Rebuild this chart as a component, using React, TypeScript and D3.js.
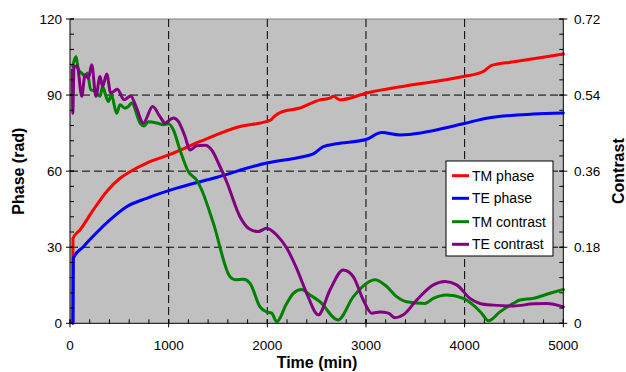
import React from "react";
import * as d3 from "d3";

const xTicks = [0, 1000, 2000, 3000, 4000, 5000];
const phaseTicks = [0, 30, 60, 90, 120];
const contrastTicks = [0, 0.18, 0.36, 0.54, 0.72];
const seriesNames = ["TM phase", "TE phase", "TM contrast", "TE contrast"];
const seriesColors = ["#ff0000", "#0000ff", "#008000", "#800080"];

const tmPhase: [number, number][] = [
  [27, 0], [30, 33.5], [101, 36.8], [236, 44.7], [372, 52], [507, 57.2], [608, 59.8],
  [777, 63.2], [1014, 66.6], [1318, 71.7], [1723, 77.6], [1993, 79.6], [2040, 80.3],
  [2060, 81.2], [2128, 83.1], [2331, 84.9], [2534, 88.1], [2635, 88.8], [2669, 89.5],
  [2737, 88.1], [3007, 90.8], [3412, 93.7], [3986, 97.3], [4189, 99.3], [4274, 101.7],
  [4500, 103.1], [5000, 106.2],
];

const tePhase: [number, number][] = [
  [31, 0], [34, 25.7], [135, 30.2], [236, 34.4], [405, 40.8], [574, 46], [777, 49.3], [1081, 53.3],
  [1453, 57.2], [1993, 63.2], [2331, 65.5], [2466, 66.8], [2567, 69.7], [2700, 70.8],
  [3007, 72.6], [3159, 75.2], [3345, 74.3], [3986, 78.7], [4223, 80.9], [4696, 82.5],
  [5000, 82.9],
];

const tmContrast: [number, number][] = [
  [27, 0.608], [61, 0.631], [85, 0.6], [119, 0.592], [152, 0.584], [176, 0.592], [210, 0.553],
  [253, 0.549], [304, 0.537], [330, 0.56], [365, 0.537], [389, 0.525], [420, 0.54],
  [473, 0.497], [507, 0.517], [557, 0.509], [591, 0.513], [625, 0.521], [710, 0.474],
  [750, 0.467], [794, 0.477], [879, 0.474], [946, 0.47], [997, 0.472], [1047, 0.458],
  [1115, 0.41], [1199, 0.359], [1284, 0.339], [1334, 0.316], [1453, 0.237], [1622, 0.11],
  [1673, 0.103], [1757, 0.104], [1824, 0.095], [1926, 0.039], [1993, 0.027], [2044, 0.024],
  [2095, 0.004], [2196, 0.047], [2264, 0.071], [2348, 0.08], [2433, 0.067], [2534, 0.051],
  [2716, 0.008], [2872, 0.063], [3007, 0.095], [3092, 0.103], [3210, 0.087], [3311, 0.063],
  [3412, 0.051], [3598, 0.047], [3683, 0.059], [3818, 0.067], [3986, 0.059], [4088, 0.043],
  [4172, 0.024], [4240, 0.006], [4358, 0.027], [4493, 0.047], [4561, 0.055], [4696, 0.059],
  [4865, 0.071], [5000, 0.08],
];

const teContrast: [number, number][] = [
  [25, 0.6], [28, 0.497], [41, 0.608], [74, 0.608], [119, 0.537], [152, 0.588], [186, 0.58],
  [220, 0.612], [263, 0.537], [304, 0.584], [331, 0.56], [372, 0.59], [413, 0.545],
  [480, 0.554], [548, 0.529], [615, 0.538], [669, 0.513], [743, 0.474], [838, 0.513],
  [912, 0.489], [963, 0.474], [1047, 0.486], [1098, 0.478], [1166, 0.442], [1216, 0.41],
  [1284, 0.42], [1368, 0.421], [1436, 0.41], [1520, 0.371], [1588, 0.335], [1723, 0.252],
  [1808, 0.225], [1909, 0.217], [1993, 0.225], [2095, 0.209], [2196, 0.178], [2297, 0.13],
  [2399, 0.071], [2517, 0.02], [2635, 0.079], [2770, 0.126], [2872, 0.11], [2973, 0.055],
  [3058, 0.024], [3142, 0.027], [3227, 0.024], [3294, 0.013], [3379, 0.02], [3514, 0.055],
  [3683, 0.091], [3801, 0.099], [3919, 0.091], [4054, 0.059], [4155, 0.047], [4290, 0.043],
  [4493, 0.041], [4696, 0.046], [4831, 0.047], [5000, 0.039],
];

const W = 626;
const H = 372;
const L = 70;
const R = 563.3;
const T = 19;
const B = 323.3;
const FONT = "Arial, 'Liberation Sans', sans-serif";

export default function App() {
  const x = d3.scaleLinear().domain([0, 5000]).range([L, R]);
  const yP = d3.scaleLinear().domain([0, 120]).range([B, T]);
  const yC = d3.scaleLinear().domain([0, 0.72]).range([B, T]);

  const lineP = d3.line<[number, number]>().x((d) => x(d[0])).y((d) => yP(d[1])).curve(d3.curveMonotoneX);
  const lineC = d3.line<[number, number]>().x((d) => x(d[0])).y((d) => yC(d[1])).curve(d3.curveMonotoneX);

  const xMinor = d3.range(0, 5001, 200);
  const pMinor = d3.range(0, 121, 6);
  const cMinor = d3.range(0, 21).map((i) => i * 0.036);

  const paths = [lineP(tmPhase), lineP(tePhase), lineC(tmContrast), lineC(teContrast)];

  const legX = 446, legY = 161, legW = 107, legH = 95;
  const rowY = [175.7, 198.3, 221.7, 244.3];

  return (
    <div style={{ position: "fixed", left: 0, top: 0 }}>
      <svg width={W} height={H} style={{ display: "block", background: "#fff" }} fontFamily={FONT}>
        <rect x={L} y={T} width={R - L} height={B - T} fill="#c0c0c0" />
        <line x1={L} x2={R} y1={T} y2={T} stroke="#808080" strokeWidth={1} />
        {xTicks.slice(1, -1).map((t) => (
          <line key={"gx" + t} x1={x(t)} x2={x(t)} y1={T} y2={B} stroke="#000" strokeWidth={1} strokeDasharray="8,4" />
        ))}
        {phaseTicks.slice(1, -1).map((t) => (
          <line key={"gy" + t} x1={L} x2={R} y1={yP(t)} y2={yP(t)} stroke="#000" strokeWidth={1} strokeDasharray="8,4" />
        ))}
        {paths.map((p, i) => (
          <path key={"s" + i} d={p || ""} fill="none" stroke={seriesColors[i]} strokeWidth={3} strokeLinejoin="round" strokeLinecap="round" />
        ))}
        <line x1={L} x2={L} y1={T} y2={B} stroke="#000" />
        <line x1={R} x2={R} y1={T} y2={B} stroke="#000" />
        <line x1={L} x2={R} y1={B} y2={B} stroke="#000" />
        {xMinor.map((t) => (
          <line key={"xm" + t} x1={x(t)} x2={x(t)} y1={B - 4} y2={B} stroke="#000" />
        ))}
        {xTicks.map((t) => (
          <g key={"xt" + t}>
            <line x1={x(t)} x2={x(t)} y1={B - 4} y2={B + 4} stroke="#000" />
            <text x={x(t)} y={350} textAnchor="middle" fontSize={13.5} fill="#000">{t}</text>
          </g>
        ))}
        {pMinor.map((t) => (
          <line key={"pm" + t} x1={L} x2={L + 4} y1={yP(t)} y2={yP(t)} stroke="#000" />
        ))}
        {phaseTicks.map((t) => (
          <g key={"pt" + t}>
            <line x1={L - 4} x2={L + 4} y1={yP(t)} y2={yP(t)} stroke="#000" />
            <text x={62} y={yP(t) + 5} textAnchor="end" fontSize={13.5} fill="#000">{t}</text>
          </g>
        ))}
        {cMinor.map((t, i) => (
          <line key={"cm" + i} x1={R - 4} x2={R} y1={yC(t)} y2={yC(t)} stroke="#000" />
        ))}
        {contrastTicks.map((t) => (
          <g key={"ct" + t}>
            <line x1={R - 4} x2={R + 4} y1={yC(t)} y2={yC(t)} stroke="#000" />
            <text x={574} y={yC(t) + 5} textAnchor="start" fontSize={13.5} fill="#000">{t === 0 ? "0" : t.toFixed(2)}</text>
          </g>
        ))}
        <text x={317} y={368} textAnchor="middle" fontSize={16} fontWeight="bold" fill="#000">Time (min)</text>
        <text transform={`translate(24,${(T + B) / 2}) rotate(-90)`} textAnchor="middle" fontSize={16} fontWeight="bold" fill="#000">Phase (rad)</text>
        <text transform={`translate(624,${(T + B) / 2}) rotate(-90)`} textAnchor="middle" fontSize={16} fontWeight="bold" fill="#000">Contrast</text>
        <rect x={legX} y={legY} width={legW} height={legH} fill="#fff" stroke="#000" strokeWidth={1} />
        {seriesNames.map((n, i) => (
          <g key={"lg" + i}>
            <line x1={452} x2={469} y1={rowY[i]} y2={rowY[i]} stroke={seriesColors[i]} strokeWidth={3} />
            <text x={472} y={rowY[i] + 5} fontSize={14} fill="#000">{n}</text>
          </g>
        ))}
      </svg>
    </div>
  );
}
